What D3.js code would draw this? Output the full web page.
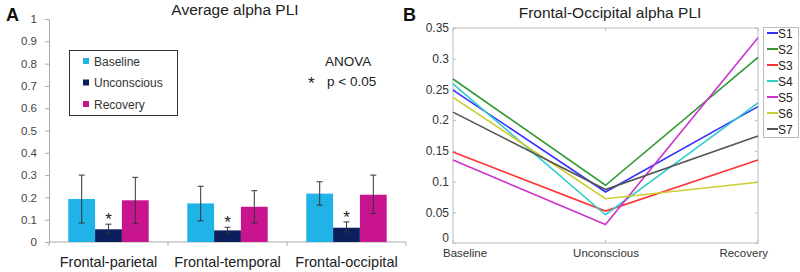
<!DOCTYPE html>
<html><head><meta charset="utf-8">
<script src="https://cdn.jsdelivr.net/npm/d3@7"></script>
<style>body{margin:0;background:#fff}svg{display:block}</style>
</head><body><svg id="c" width="800" height="272"></svg>
<script>
// Panel A data
const regions = ["Frontal-parietal","Frontal-temporal","Frontal-occipital"];
const conditions = ["Baseline","Unconscious","Recovery"];
const condColors = ["#1fb3e8","#0a1f5c","#c8158f"];
const barMeans = [[0.193,0.057,0.187],[0.173,0.052,0.158],[0.217,0.064,0.212]];
const errHigh = [[0.30,0.080,0.29],[0.25,0.066,0.23],[0.27,0.090,0.30]];
const errLow  = [[0.085,0.040,0.082],[0.095,0.040,0.085],[0.165,0.045,0.128]];
const yTicksA = [0,0.1,0.2,0.3,0.4,0.5,0.6,0.7,0.8,0.9,1];
// Panel B data
const subjects = ["S1","S2","S3","S4","S5","S6","S7"];
const subjColors = ["#3333ff","#339933","#ff3333","#33cccc","#cc33cc","#cccc33","#555555"];
const baselineV = [0.249,0.267,0.148,0.259,0.135,0.237,0.213];
const unconsciousV = [0.083,0.094,0.052,0.046,0.030,0.072,0.087];
const recoveryV = [0.222,0.302,0.135,0.228,0.334,0.099,0.174];
const yTicksB = [0,0.05,0.1,0.15,0.2,0.25,0.3,0.35];

const svg = d3.select("#c");
const font = "Liberation Sans, Arial, sans-serif";

// ---------- Panel A ----------
const yA = d3.scaleLinear().domain([0,1]).range([242,19]);
const xA = d3.scaleBand().domain(regions).range([49,406]);
const xInner = d3.scaleBand().domain(conditions).range([0,xA.bandwidth()]).paddingOuter(0.72).paddingInner(0);
const gA = svg.append("g");
const axA = gA.append("g").attr("transform","translate(49,0)")
  .call(d3.axisLeft(yA).tickValues(yTicksA).tickSize(4).tickPadding(8).tickFormat(d=>d3.format("~g")(d)));
axA.select(".domain").attr("stroke","#aaa");
axA.selectAll(".tick line").attr("stroke","#aaa");
axA.selectAll("text").attr("font-family",font).attr("font-size",11.5).attr("fill","#444");
// x axis
gA.append("line").attr("x1",49).attr("x2",406).attr("y1",242).attr("y2",242).attr("stroke","#aaa");
[49, ...regions.map(r=>xA(r)+xA.bandwidth())].forEach(x=>{
  gA.append("line").attr("x1",x).attr("x2",x).attr("y1",242).attr("y2",246).attr("stroke","#aaa");
});
regions.forEach((r,i)=>{
  const g = gA.append("g").attr("transform",`translate(${xA(r)},0)`);
  conditions.forEach((c,j)=>{
    const x = xInner(c), w = xInner.bandwidth();
    g.append("rect").attr("x",x).attr("y",yA(barMeans[i][j])).attr("width",w)
      .attr("height",yA(0)-yA(barMeans[i][j])).attr("fill",condColors[j]);
    const cx = x + w/2;
    g.append("line").attr("x1",cx).attr("x2",cx).attr("y1",yA(errHigh[i][j])).attr("y2",yA(errLow[i][j])).attr("stroke","#333").attr("stroke-width",1);
    [errHigh[i][j],errLow[i][j]].forEach(v=>g.append("line").attr("x1",cx-3).attr("x2",cx+3).attr("y1",yA(v)).attr("y2",yA(v)).attr("stroke","#333"));
  });
  g.append("text").attr("x",xInner("Unconscious")+xInner.bandwidth()/2).attr("y",yA(errHigh[i][1])+1)
    .attr("text-anchor","middle").attr("font-family",font).attr("font-size",17).attr("fill","#222").text("*");
  gA.append("text").attr("x",xA(r)+xA.bandwidth()/2).attr("y",267).attr("text-anchor","middle")
    .attr("font-family",font).attr("font-size",14.5).attr("fill","#222").text(r);
});
gA.append("text").attr("x",235).attr("y",15).attr("text-anchor","middle").attr("font-family",font)
  .attr("font-size",15.5).attr("fill","#222").text("Average alpha PLI");
gA.append("text").attr("x",6).attr("y",21).attr("font-family",font).attr("font-weight","bold")
  .attr("font-size",18).attr("fill","#111").text("A");
// legend A
gA.append("rect").attr("x",69.5).attr("y",50.5).attr("width",108).attr("height",65).attr("fill","#fff").attr("stroke","#333");
conditions.forEach((c,j)=>{
  const y = 62 + j*21.5;
  gA.append("rect").attr("x",83).attr("y",y-4).attr("width",6).attr("height",6).attr("fill",condColors[j]);
  gA.append("text").attr("x",94).attr("y",y+3.5).attr("font-family",font).attr("font-size",12).attr("fill","#333").text(c);
});
gA.append("text").attr("x",325).attr("y",66).attr("font-family",font).attr("font-size",13.5).attr("fill","#222").text("ANOVA");
gA.append("text").attr("x",308).attr("y",89).attr("font-family",font).attr("font-size",17).attr("fill","#222").text("*");
gA.append("text").attr("x",327).attr("y",86).attr("font-family",font).attr("font-size",13.5).attr("fill","#222").text("p < 0.05");

// ---------- Panel B ----------
const xB = d3.scalePoint().domain(conditions).range([453,758]);
const yB = d3.scaleLinear().domain([0,0.35]).range([243,28]);
const gB = svg.append("g");
gB.append("rect").attr("x",453).attr("y",28).attr("width",305).attr("height",215).attr("fill","#fff").attr("stroke","#bbb");
const axB = gB.append("g").attr("transform","translate(453,0)")
  .call(d3.axisLeft(yB).tickValues(yTicksB).tickSize(-3).tickPadding(4).tickFormat(d=>d3.format("~g")(d)));
axB.select(".domain").remove();
axB.selectAll(".tick line").attr("stroke","#bbb");
axB.selectAll("text").attr("font-family",font).attr("font-size",12).attr("fill","#333");
axB.selectAll(".tick").filter(d=>d===0).select("text").attr("dy","-0.1em");
const axBR = gB.append("g").attr("transform","translate(758,0)")
  .call(d3.axisRight(yB).tickValues(yTicksB).tickSize(-3).tickFormat(""));
axBR.select(".domain").remove(); axBR.selectAll(".tick line").attr("stroke","#bbb");
conditions.forEach(c=>{
  gB.append("line").attr("x1",xB(c)).attr("x2",xB(c)).attr("y1",243).attr("y2",240).attr("stroke","#bbb");
  gB.append("line").attr("x1",xB(c)).attr("x2",xB(c)).attr("y1",28).attr("y2",31).attr("stroke","#bbb");
});
const line = d3.line().x(d=>xB(d[0])).y(d=>yB(d[1]));
subjects.forEach((s,i)=>{
  const pts = [["Baseline",baselineV[i]],["Unconscious",unconsciousV[i]],["Recovery",recoveryV[i]]];
  gB.append("path").attr("d",line(pts)).attr("fill","none").attr("stroke",subjColors[i]).attr("stroke-width",1.6);
});
[["Baseline",443,"start"],["Unconscious",606,"middle"],["Recovery",768,"end"]].forEach(([t,x,a])=>{
  gB.append("text").attr("x",x).attr("y",257).attr("text-anchor",a).attr("font-family",font)
    .attr("font-size",11.5).attr("fill","#333").text(t);
});
gB.append("text").attr("x",610).attr("y",18).attr("text-anchor","middle").attr("font-family",font)
  .attr("font-size",15.5).attr("fill","#222").text("Frontal-Occipital alpha PLI");
gB.append("text").attr("x",403).attr("y",21).attr("font-family",font).attr("font-weight","bold")
  .attr("font-size",18).attr("fill","#111").text("B");
// legend B
gB.append("rect").attr("x",763.5).attr("y",27.5).attr("width",35).attr("height",110).attr("fill","#fff").attr("stroke","#bbb");
subjects.forEach((s,i)=>{
  const y = 33 + i*16;
  gB.append("line").attr("x1",767).attr("x2",778).attr("y1",y).attr("y2",y).attr("stroke",subjColors[i]).attr("stroke-width",2);
  gB.append("text").attr("x",778).attr("y",y+4.5).attr("font-family",font).attr("font-size",12).attr("fill","#222").text(s);
});
</script></body></html>
